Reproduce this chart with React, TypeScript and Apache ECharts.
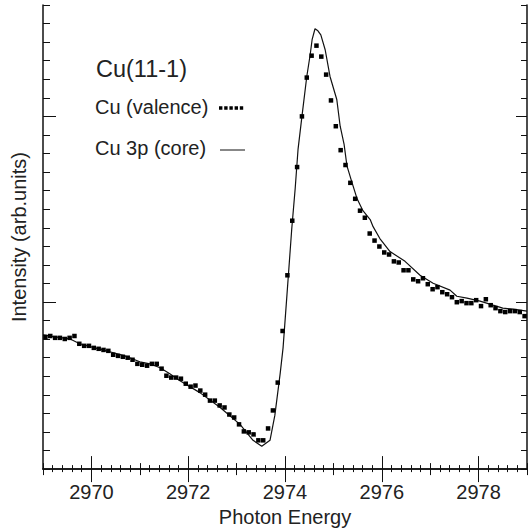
import React, { useEffect, useRef } from "react";
import * as echarts from "echarts";

// Valence-band (Cu) resonance, sampled every 0.1 eV
const valenceEnergy = [
  2969.05, 2969.15, 2969.25, 2969.35, 2969.45, 2969.55, 2969.65, 2969.75, 2969.85, 2969.95,
  2970.05, 2970.15, 2970.25, 2970.35, 2970.45, 2970.55, 2970.65, 2970.75, 2970.85, 2970.95,
  2971.05, 2971.15, 2971.25, 2971.35, 2971.45, 2971.55, 2971.65, 2971.75, 2971.85, 2971.95,
  2972.05, 2972.15, 2972.25, 2972.35, 2972.45, 2972.55, 2972.65, 2972.75, 2972.85, 2972.95,
  2973.05, 2973.15, 2973.25, 2973.35, 2973.45, 2973.55, 2973.65, 2973.75, 2973.85, 2973.95,
  2974.05, 2974.15, 2974.25, 2974.35, 2974.45, 2974.55, 2974.65, 2974.75, 2974.85, 2974.95,
  2975.05, 2975.15, 2975.25, 2975.35, 2975.45, 2975.55, 2975.65, 2975.75, 2975.85, 2975.95,
  2976.05, 2976.15, 2976.25, 2976.35, 2976.45, 2976.55, 2976.65, 2976.75, 2976.85, 2976.95,
  2977.05, 2977.15, 2977.25, 2977.35, 2977.45, 2977.55, 2977.65, 2977.75, 2977.85, 2977.95,
  2978.05, 2978.15, 2978.25, 2978.35, 2978.45, 2978.55, 2978.65, 2978.75, 2978.85, 2978.95,
];
const valenceIntensity = [
  7.12, 7.17, 7.07, 7.07, 7.01, 7.07, 7.17, 6.75, 6.64, 6.64,
  6.53, 6.48, 6.42, 6.37, 6.16, 6.1, 6.05, 6.0, 5.89, 5.67,
  5.62, 5.57, 5.67, 5.67, 5.41, 5.03, 4.93, 4.93, 4.87, 4.6,
  4.44, 4.5, 4.23, 4.01, 3.69, 3.69, 3.43, 3.32, 2.94, 2.78,
  2.41, 2.03, 1.98, 1.87, 1.55, 1.55, 2.19, 3.16, 4.66, 7.44,
  10.44, 13.38, 16.27, 19.0, 21.09, 22.27, 22.81, 22.22, 21.25, 19.86,
  18.47, 17.18, 16.38, 15.42, 14.56, 13.92, 13.54, 12.69, 12.31, 11.99,
  11.67, 11.56, 11.19, 11.13, 10.71, 10.71, 10.22, 10.12, 10.28, 9.96,
  9.69, 9.8, 9.53, 9.42, 9.26, 8.99, 9.05, 8.94, 8.94, 9.1,
  8.78, 9.15, 8.83, 8.67, 8.51, 8.46, 8.51, 8.51, 8.46, 8.24,
];

// Cu 3p core-level curve
const coreEnergy = [
  2969.0, 2969.25, 2969.56, 2969.76, 2970.07, 2970.38, 2970.69, 2971.0, 2971.21, 2971.42,
  2971.62, 2971.83, 2972.24, 2972.66, 2973.07, 2973.34, 2973.52, 2973.69, 2973.79, 2973.9,
  2973.96, 2974.04, 2974.14, 2974.21, 2974.27, 2974.35, 2974.45, 2974.52, 2974.56, 2974.62,
  2974.68, 2974.74, 2974.83, 2974.93, 2975.07, 2975.14, 2975.22, 2975.28, 2975.38, 2975.49,
  2975.61, 2975.76, 2975.82, 2975.96, 2976.17, 2976.48, 2976.79, 2977.06, 2977.41, 2977.55,
  2977.76, 2978.03, 2978.3, 2978.5, 2978.71, 2979.0,
];
const coreIntensity = [
  7.23, 7.12, 7.01, 6.75, 6.53, 6.32, 6.1, 5.78, 5.67, 5.46,
  5.14, 4.76, 4.12, 3.32, 2.41, 1.55, 1.23, 1.55, 2.89, 5.14,
  6.53, 9.37, 12.96, 15.1, 17.24, 19.0, 21.15, 22.32, 23.13, 23.72,
  23.61, 23.39, 22.59, 21.15, 19.91, 18.47, 17.51, 16.33, 15.47, 14.56,
  13.92, 13.44, 13.06, 12.42, 11.72, 11.19, 10.44, 10.01, 9.64, 9.31,
  9.21, 9.05, 8.83, 8.67, 8.62, 8.51,
];

const xLabelValues = [2970, 2972, 2974, 2976, 2978];
const xLongTicks = [2970, 2972, 2974, 2976, 2978];
const yLongTicks = [9, 19];

const titleText = "Cu(11-1)";
const valenceLabel = "Cu (valence)";
const coreLabel = "Cu 3p (core)";

const FONT = "'Liberation Sans', Arial, Helvetica, sans-serif";
const INK = "#111";
const TEXT = "#222";

export default function App() {
  const ref = useRef<HTMLDivElement>(null);

  useEffect(() => {
    document.body.style.margin = "0";
    if (!ref.current) return;
    const chart = echarts.init(ref.current, null, { renderer: "svg" });

    const frameLine = { show: true, lineStyle: { color: INK, width: 1.5 } };
    const noSplit = { show: false };

    const xBase = {
      type: "value" as const,
      min: 2969,
      max: 2979,
      splitLine: noSplit,
      minorSplitLine: noSplit,
    };
    const yBase = {
      type: "value" as const,
      min: 0,
      max: 25,
      splitLine: noSplit,
      minorSplitLine: noSplit,
    };

    chart.setOption({
      animation: false,
      backgroundColor: "#fff",
      grid: { left: 43, right: 2, top: 5, bottom: 60 },
      xAxis: [
        {
          ...xBase,
          position: "bottom",
          interval: 1,
          axisLine: frameLine,
          axisTick: { show: true, inside: true, length: 6, lineStyle: { color: INK, width: 1 } },
          minorTick: { show: true, splitNumber: 5, length: 4, lineStyle: { color: INK, width: 1 } },
          axisLabel: {
            customValues: xLabelValues,
            formatter: (v: number) => String(v),
            fontSize: 20,
            fontFamily: FONT,
            color: TEXT,
            margin: 13,
          },
          name: "Photon Energy",
          nameLocation: "middle",
          nameGap: 35,
          nameTextStyle: { fontSize: 20, fontFamily: FONT, color: TEXT },
        },
        {
          ...xBase,
          position: "bottom",
          axisLine: { show: false },
          axisTick: { show: true, inside: true, length: 13, customValues: xLongTicks, lineStyle: { color: INK, width: 1 } },
          axisLabel: { show: false },
        },
        {
          ...xBase,
          position: "top",
          interval: 1,
          axisLine: frameLine,
          axisTick: { show: true, inside: true, length: 6, lineStyle: { color: INK, width: 1 } },
          minorTick: { show: true, splitNumber: 5, length: 3, lineStyle: { color: INK, width: 1 } },
          axisLabel: { show: false },
        },
        {
          ...xBase,
          position: "top",
          axisLine: { show: false },
          axisTick: { show: true, inside: true, length: 13, customValues: xLongTicks, lineStyle: { color: INK, width: 1 } },
          axisLabel: { show: false },
        },
      ],
      yAxis: [
        {
          ...yBase,
          position: "left",
          interval: 1,
          axisLine: frameLine,
          axisTick: { show: true, inside: true, length: 7, lineStyle: { color: INK, width: 1 } },
          axisLabel: { show: false },
          name: "Intensity (arb.units)",
          nameLocation: "middle",
          nameGap: 14,
          nameTextStyle: { fontSize: 20, fontFamily: FONT, color: TEXT },
        },
        {
          ...yBase,
          position: "left",
          axisLine: { show: false },
          axisTick: { show: true, inside: true, length: 13, customValues: yLongTicks, lineStyle: { color: INK, width: 1 } },
          axisLabel: { show: false },
        },
        {
          ...yBase,
          position: "right",
          interval: 1,
          axisLine: frameLine,
          axisTick: { show: true, inside: true, length: 6, lineStyle: { color: INK, width: 1 } },
          axisLabel: { show: false },
        },
        {
          ...yBase,
          position: "right",
          axisLine: { show: false },
          axisTick: { show: true, inside: true, length: 11, customValues: yLongTicks, lineStyle: { color: INK, width: 1 } },
          axisLabel: { show: false },
        },
      ],
      series: [
        {
          name: coreLabel,
          type: "line",
          xAxisIndex: 0,
          yAxisIndex: 0,
          showSymbol: false,
          symbol: "none",
          lineStyle: { color: INK, width: 1.2 },
          data: coreEnergy.map((e, i) => [e, coreIntensity[i]]),
          z: 2,
        },
        {
          name: valenceLabel,
          type: "scatter",
          xAxisIndex: 0,
          yAxisIndex: 0,
          symbol: "rect",
          symbolSize: 4.5,
          itemStyle: { color: "#000", opacity: 1 },
          data: valenceEnergy.map((e, i) => [e, valenceIntensity[i]]),
          z: 3,
        },
      ],
      graphic: [
        {
          type: "text",
          left: 96,
          top: 57,
          style: { text: titleText, fontSize: 23.5, fontFamily: FONT, fill: TEXT },
        },
        {
          type: "text",
          left: 95,
          top: 97,
          style: { text: valenceLabel, fontSize: 20, fontFamily: FONT, fill: TEXT },
        },
        {
          type: "line",
          shape: { x1: 219, y1: 108, x2: 245, y2: 108 },
          style: { stroke: "#000", lineWidth: 3.5, lineDash: [3.4, 1.8] },
        },
        {
          type: "text",
          left: 95,
          top: 138,
          style: { text: coreLabel, fontSize: 20, fontFamily: FONT, fill: TEXT },
        },
        {
          type: "line",
          shape: { x1: 220, y1: 150, x2: 245, y2: 150 },
          style: { stroke: INK, lineWidth: 1 },
        },
      ],
    });

    return () => chart.dispose();
  }, []);

  return <div ref={ref} style={{ width: 529, height: 532 }} />;
}
